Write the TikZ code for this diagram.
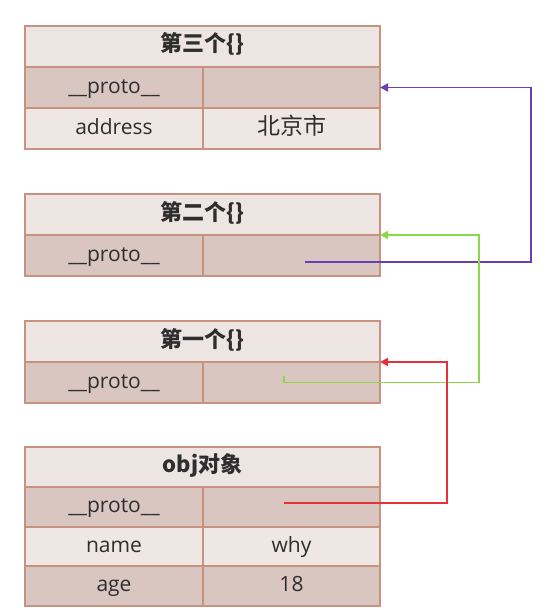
\documentclass[tikz,border=0pt]{standalone}
\usepackage{fontspec}
\setmainfont{Open Sans}
\newfontfamily\cjk{Noto Sans CJK SC}
\usetikzlibrary{arrows.meta}
\definecolor{hdr}{HTML}{ECE5E2}
\definecolor{dark}{HTML}{D9C6C1}
\definecolor{light}{HTML}{EEE7E4}
\definecolor{bord}{HTML}{C7927F}
\definecolor{txt}{HTML}{2E2E2E}
\definecolor{purp}{HTML}{6B3FB3}
\definecolor{grn}{HTML}{8BD84A}
\definecolor{rd}{HTML}{E5313C}
\begin{document}
\begin{tikzpicture}[x=1pt,y=-1pt,
  cell/.style={draw=bord, line width=1.3pt, inner sep=0pt, outer sep=0pt, anchor=north west,
               text=txt, font=\fontsize{21}{21}\selectfont, text height=15pt, text depth=4pt},
  hcell/.style={cell, fill=hdr, minimum width=355pt, font=\cjk\bfseries\fontsize{22}{22}\selectfont},
  kcell/.style={cell, minimum width=178pt},
  vcell/.style={cell, minimum width=177pt},
  conn/.style={line width=1.8pt, -{Triangle[length=8pt,width=8pt]}}]
\useasboundingbox (0,0) rectangle (550,610);
% third object
\node[hcell, minimum height=41pt] (Ah) at (25,26) {第三个\{\}};
\node[kcell, fill=dark, minimum height=41pt] (A1k) at (25,67) {\_\_proto\_\_};
\node[vcell, fill=dark, minimum height=41pt] (A1v) at (203,67) {};
\node[kcell, fill=light, minimum height=41pt] (A2k) at (25,108) {address};
\node[vcell, fill=light, minimum height=41pt] (A2v) at (203,108) {\cjk\fontsize{23}{23}\selectfont 北京市};
% second object
\node[hcell, minimum height=41pt] (Bh) at (25,194) {第二个\{\}};
\node[kcell, fill=dark, minimum height=41pt] (B1k) at (25,235) {\_\_proto\_\_};
\node[vcell, fill=dark, minimum height=41pt] (B1v) at (203,235) {};
% first object
\node[hcell, minimum height=41pt] (Ch) at (25,321) {第一个\{\}};
\node[kcell, fill=dark, minimum height=41pt] (C1k) at (25,362) {\_\_proto\_\_};
\node[vcell, fill=dark, minimum height=41pt] (C1v) at (203,362) {};
% obj
\node[hcell, minimum height=40pt] (Dh) at (25,447) {obj对象};
\node[kcell, fill=dark, minimum height=40pt] (D1k) at (25,487) {\_\_proto\_\_};
\node[vcell, fill=dark, minimum height=40pt] (D1v) at (203,487) {};
\node[kcell, fill=light, minimum height=39pt] (D2k) at (25,527) {name};
\node[vcell, fill=light, minimum height=39pt] (D2v) at (203,527) {why};
\node[kcell, fill=dark, minimum height=40pt] (D3k) at (25,566) {age};
\node[vcell, fill=dark, minimum height=40pt] (D3v) at (203,566) {18};
% connectors
\coordinate (pS) at (305,262);
\coordinate (gS) at (284,376);
\coordinate (rS) at (284,503);
\draw[conn, purp] (pS) -- ++(226,0) |- (A1v.east);
\draw[conn, grn] (gS) -- ++(0,6.5) -- ++(195,0) |- (Bh.south east);
\draw[conn, rd] (rS) -- ++(163,0) |- (Ch.south east);
\end{tikzpicture}
\end{document}
